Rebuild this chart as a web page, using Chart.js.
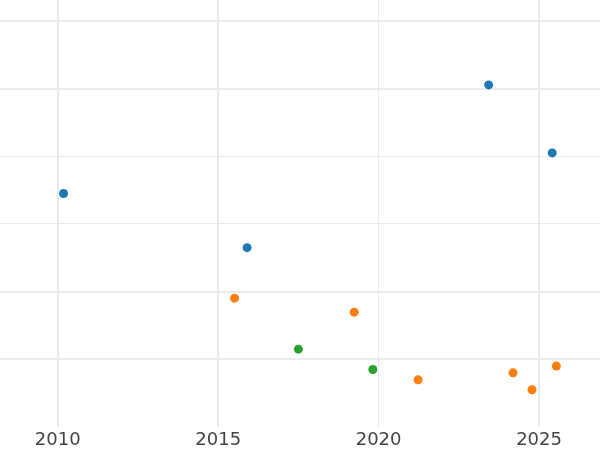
<!DOCTYPE html>
<html>
<head>
<meta charset="utf-8">
<script src="https://cdn.jsdelivr.net/npm/chart.js@4"></script>
<style>
  html, body { margin: 0; padding: 0; background: #fff; }
  #wrap { width: 600px; height: 450px; }
</style>
</head>
<body>
<div id="wrap"><canvas id="myChart"></canvas></div>
<script>
// values
const blueYears = [2010.18, 2015.90, 2023.43, 2025.41];
const blueValues = [34.5, 26.5, 50.55, 40.5];

const orangeYears = [2015.51, 2019.24, 2021.23, 2024.19, 2024.78, 2025.54];
const orangeValues = [19.04, 16.97, 6.97, 8.0, 5.5, 9.0];

const greenYears = [2017.50, 2019.82];
const greenValues = [11.5, 8.5];

const xTicks = [2010, 2015, 2020, 2025];

const toPoints = (xs, ys) => xs.map((x, i) => ({ x: x, y: ys[i] }));

const makeSet = (label, xs, ys, color) => {
  return {
    label: label,
    data: toPoints(xs, ys),
    backgroundColor: color,
    borderWidth: 0,
    pointRadius: 4.5,
    pointHoverRadius: 4.5
  };
};

const generateChart = () => {
  var ctx = document.getElementById('myChart').getContext('2d');
  var myChart = new Chart(ctx, {
    type: 'scatter',
    data: {
      datasets: [
        makeSet('blue', blueYears, blueValues, '#1f77b4'),
        makeSet('orange', orangeYears, orangeValues, '#ff7f0e'),
        makeSet('green', greenYears, greenValues, '#2ca02c')
      ]
    },
    options: {
      responsive: true,
      maintainAspectRatio: false,
      animation: false,
      layout: { padding: 0, autoPadding: false },
      plugins: {
        legend: { display: false },
        tooltip: { enabled: false }
      },
      scales: {
        x: {
          type: 'linear',
          min: 2008.2,
          max: 2026.9,
          border: { display: false },
          grid: {
            drawTicks: false,
            color: '#ebebeb',
            lineWidth: (c) => (c.tick && c.tick.value === 2020 ? 1 : 2)
          },
          afterBuildTicks: (axis) => {
            axis.ticks = xTicks.map((v) => ({ value: v }));
          },
          afterFit: (axis) => {
            axis.height = 23;
          },
          ticks: {
            padding: 3,
            color: '#444',
            font: { family: 'DejaVu Sans', size: 18 },
            callback: (v) => String(v)
          }
        },
        y: {
          min: 0,
          max: 63.1,
          border: { display: false },
          grid: {
            drawTicks: false,
            color: (c) => (c.tick && c.tick.value === 0 ? 'rgba(0,0,0,0)' : '#ebebeb'),
            lineWidth: (c) => (c.tick && (c.tick.value === 30 || c.tick.value === 40) ? 1 : 2)
          },
          ticks: {
            display: false,
            stepSize: 10,
            includeBounds: false
          }
        }
      }
    }
  });
  return myChart;
};

generateChart();
</script>
</body>
</html>
